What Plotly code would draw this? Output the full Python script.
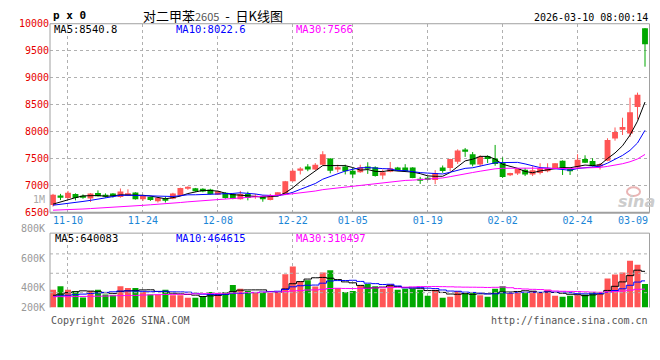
import plotly.graph_objects as go
import pandas as pd

W, H = 660, 360
MONO = "DejaVu Sans Mono"

# ---------------- data ----------------
open_ = [6645, 6820, 6775, 6850, 6810, 6765, 6865, 6825, 6855, 6790,
         6830, 6875, 6750, 6790, 6712, 6760, 6762, 6821, 6955, 6952,
         6945, 6930, 6835, 6870, 6850, 6750, 6850, 6800, 6810, 6735,
         6810, 6845, 7085, 7290, 7357, 7300, 7387, 7506, 7300, 7357,
         7280, 7250, 7357, 7345, 7190, 7260, 7340, 7340, 7340, 7130,
         7150, 7105, 7339, 7327, 7446, 7673, 7583, 7393, 7553, 7506,
         7428, 7196, 7226, 7298, 7208, 7238, 7268, 7327, 7464, 7310,
         7339, 7494, 7458, 7357, 7464, 7875, 8055, 7970, 8460, 9915]
high = [6850, 6850, 6905, 6860, 6840, 6865, 6915, 6860, 6865, 6950,
        6935, 6880, 6830, 6800, 6790, 6800, 6870, 6965, 6990, 6960,
        6955, 6945, 6910, 6880, 6860, 6905, 6890, 6850, 6820, 6850,
        6880, 7090, 7300, 7345, 7400, 7420, 7640, 7510, 7390, 7390,
        7330, 7390, 7435, 7360, 7300, 7440, 7350, 7400, 7345, 7165,
        7170, 7290, 7375, 7500, 7675, 7700, 7625, 7565, 7565, 7756,
        7525, 7240, 7315, 7330, 7360, 7417, 7417, 7420, 7470, 7330,
        7585, 7565, 7510, 7420, 7880, 8080, 8260, 8630, 8725, 9920]
low = [6615, 6735, 6760, 6730, 6760, 6700, 6800, 6780, 6780, 6780,
       6810, 6745, 6720, 6720, 6690, 6690, 6750, 6815, 6925, 6890,
       6880, 6840, 6830, 6760, 6750, 6745, 6730, 6760, 6705, 6730,
       6805, 6840, 7080, 7210, 7270, 7290, 7380, 7230, 7250, 7210,
       7140, 7240, 7220, 7170, 7120, 7250, 7270, 7260, 7140, 7035,
       7100, 7030, 7240, 7270, 7405, 7535, 7360, 7360, 7420, 7370,
       7145, 7180, 7200, 7180, 7180, 7210, 7250, 7320, 7200, 7200,
       7330, 7420, 7360, 7300, 7455, 7835, 7940, 7905, 8230, 9205]
close = [6835, 6790, 6870, 6775, 6795, 6855, 6805, 6800, 6805, 6895,
         6860, 6750, 6810, 6735, 6775, 6725, 6857, 6958, 6965, 6900,
         6895, 6845, 6900, 6775, 6760, 6850, 6775, 6815, 6750, 6820,
         6880, 7083, 7280, 7320, 7300, 7387, 7583, 7280, 7345, 7270,
         7210, 7345, 7330, 7180, 7250, 7325, 7280, 7270, 7143, 7105,
         7120, 7238, 7274, 7494, 7655, 7643, 7393, 7536, 7494, 7405,
         7161, 7238, 7315, 7208, 7286, 7327, 7327, 7417, 7327, 7268,
         7480, 7425, 7370, 7400, 7848, 7995, 8090, 8360, 8685, 9620]
volume = [311000, 374000, 311000, 289000, 175000, 289000, 311000, 226000, 216000, 374000,
          340000, 340000, 272000, 226000, 226000, 311000, 216000, 216000, 170000, 170000,
          192000, 272000, 255000, 272000, 396000, 328000, 289000, 260000, 272000, 255000,
          255000, 583000, 719000, 459000, 476000, 369000, 612000, 651000, 340000, 272000,
          289000, 386000, 413000, 374000, 328000, 408000, 311000, 328000, 328000, 311000,
          204000, 311000, 170000, 187000, 289000, 255000, 255000, 216000, 187000, 328000,
          374000, 255000, 255000, 255000, 289000, 255000, 311000, 204000, 187000, 204000,
          216000, 226000, 272000, 272000, 510000, 578000, 612000, 821000, 748000, 413000]

# moving-average values before enough history is visible
ma5_head = [6660, 6700, 6750, 6780]
ma10_head = [6640, 6655, 6680, 6695, 6710, 6730, 6750, 6770, 6790]
ma30_head = [6548, 6550, 6558, 6565, 6570, 6578, 6585, 6590, 6597, 6605,
             6615, 6625, 6638, 6648, 6655, 6665, 6675, 6690, 6703, 6714,
             6725, 6735, 6745, 6760, 6770, 6780, 6795, 6805, 6815]
vma5_head = [215000, 235000, 260000, 275000]
vma10_head = [195000, 205000, 215000, 225000, 235000, 245000, 255000, 265000, 275000]
vma30_head = [190000, 190000, 190000, 192000, 194000, 196000, 198000, 200000, 205000, 208000,
              210000, 212000, 218000, 222000, 225000, 228000, 230000, 232000, 235000, 240000,
              242000, 245000, 248000, 250000, 255000, 258000, 262000, 265000, 268000]

tick_idx = [2, 12, 22, 32, 40, 50, 60, 70, 79]
tick_labels = ["11-10", "11-24", "12-08", "12-22", "01-05", "01-19", "02-02", "02-24", "03-09"]
price_ticks = [6500, 7000, 7500, 8000, 8500, 9000, 9500, 10000]
price_tick_labels = ["6500", "7000", "7500", "8000", "8500", "9000", "9500", "10000"]
vol_tick_labels = ["800K", "600K", "400K", "200K"]
price_ma_labels = ["MA5:8540.8", "MA10:8022.6", "MA30:7566"]
vol_ma_labels = ["MA5:640083", "MA10:464615", "MA30:310497"]
title_name = "对二甲苯"
title_code = "2605"
title_tail = "\u00a0\u00a0-\u00a0\u00a0日K线图"
symbol = "p x 0"
stamp = "2026-03-10 08:00:14"

# ---------------- derived series ----------------
def moving(series, n, head):
    m = pd.Series(series, dtype=float).rolling(n).mean()
    m.iloc[:len(head)] = head
    return m.tolist()

ma5 = moving(close, 5, ma5_head)
ma10 = moving(close, 10, ma10_head)
ma30 = moving(close, 30, ma30_head)
vma5 = moving(volume, 5, vma5_head)
vma10 = moving(volume, 10, vma10_head)
vma30 = moving(volume, 30, vma30_head)

n = len(close)
x = list(range(n))
UP, DN = "#ff5555", "#00a800"
up = [c >= o for o, c in zip(open_, close)]
col = [UP if u else DN for u in up]

# ---------------- geometry ----------------
def fx(px): return px / W
def fy(py): return 1 - py / H

L, R = 50, 649.5
P_TOP, P_BOT = 18.3, 213.3
V_TOP, V_BOT = 234.3, 311.0
VOL_UNIT = 17000  # volume per pixel

fig = go.Figure()

# candle wicks
for flag, c in ((True, UP), (False, DN)):
    wx, wy = [], []
    for i in range(n):
        if up[i] == flag:
            wx += [i, i, None]
            wy += [low[i], high[i], None]
    fig.add_trace(go.Scatter(x=wx, y=wy, mode="lines", line=dict(color=c, width=1),
                             hoverinfo="skip", xaxis="x", yaxis="y"))
# candle bodies
fig.add_trace(go.Bar(x=x, y=[max(abs(c - o), 12) for o, c in zip(open_, close)],
                     base=[min(o, c) for o, c in zip(open_, close)],
                     width=0.78, marker=dict(color=col, line=dict(width=0)),
                     xaxis="x", yaxis="y"))
# price MAs
for m, c in ((ma5, "#000000"), (ma10, "#0000ff"), (ma30, "#ff00ff")):
    fig.add_trace(go.Scatter(x=x, y=m, mode="lines", line=dict(color=c, width=1),
                             xaxis="x", yaxis="y"))
# volume bars
fig.add_trace(go.Bar(x=x, y=volume, width=0.8, marker=dict(color=col, line=dict(width=0)),
                     xaxis="x2", yaxis="y2"))
for m, c in ((vma5, "#000000"), (vma10, "#0000ff"), (vma30, "#ff00ff")):
    fig.add_trace(go.Scatter(x=x, y=m, mode="lines", line=dict(color=c, width=1, shape="hvh"),
                             xaxis="x2", yaxis="y2"))

grid = dict(showgrid=True, gridcolor="#b0b0b0", griddash="dot", gridwidth=1)
xr = [-0.4, n - 0.4]
fig.update_layout(
    width=W, height=H, margin=dict(l=0, r=0, t=0, b=0),
    paper_bgcolor="white", plot_bgcolor="white", showlegend=False, barmode="overlay",
    xaxis=dict(domain=[fx(L), fx(R)], range=xr, anchor="y", tickmode="array",
               tickvals=tick_idx[:-1], ticktext=tick_labels[:-1], ticks="",
               tickfont=dict(family=MONO, size=10, color="#1c86d6"),
               zeroline=False, showline=False, **grid),
    yaxis=dict(domain=[fy(P_BOT), fy(P_TOP)], range=[price_ticks[0], price_ticks[-1]],
               anchor="x", tickmode="array", tickvals=price_ticks, ticktext=price_tick_labels,
               ticks="", tickfont=dict(family=MONO, size=10, color="#e60000"),
               zeroline=False, showline=False, **grid),
    xaxis2=dict(domain=[fx(L), fx(R)], range=xr, anchor="y2", matches="x", tickmode="array",
                tickvals=tick_idx[:-1], showticklabels=False, ticks="",
                zeroline=False, showline=False, **grid),
    yaxis2=dict(domain=[fy(V_BOT), fy(V_TOP)], range=[0, (V_BOT - V_TOP) * VOL_UNIT],
                anchor="x2", showgrid=False, showticklabels=False, ticks="", zeroline=False),
)

FRAME = "#a0a0a0"
shapes = []
def hline(y, x0=L, x1=R, color=FRAME, width=1, dash="solid"):
    shapes.append(dict(type="line", xref="paper", yref="paper", x0=fx(x0), x1=fx(x1),
                       y0=fy(y), y1=fy(y), line=dict(color=color, width=width, dash=dash)))
def vline(xp, y0, y1, color=FRAME, width=1):
    shapes.append(dict(type="line", xref="paper", yref="paper", x0=fx(xp), x1=fx(xp),
                       y0=fy(y0), y1=fy(y1), line=dict(color=color, width=width)))
hline(P_TOP)
hline(P_BOT, width=2)
vline(L, P_TOP, P_BOT)
vline(R, P_TOP, P_BOT)
hline(V_TOP)
vline(L, V_TOP, V_BOT)
vline(R, V_TOP, V_BOT)
for gy in (255.7, 275.7, 295.7):
    hline(gy, color="#b0b0b0", dash="dot")
# sina logo eye
shapes.append(dict(type="circle", xref="paper", yref="paper", x0=fx(627), x1=fx(640),
                   y0=fy(196), y1=fy(187), line=dict(color="#eab4b4", width=2)))
fig.update_layout(shapes=shapes)

anns = []
def ann(text, xp, yp, anchor="left", color="#000", size=10, family=MONO, **kw):
    anns.append(dict(text=text, x=fx(xp), y=fy(yp), xref="paper", yref="paper",
                     xanchor=anchor, yanchor="middle", showarrow=False,
                     font=dict(family=family, size=size, color=color), **kw))

ann("<b>" + symbol + "</b>", 51, 10, size=11)
ann(title_name + "<span style='font-size:11px;color:#555'>" + title_code + "</span>" + title_tail,
    213, 10, anchor="center", size=13, family="Noto Sans CJK SC")
ann(stamp, 650, 12, anchor="right", size=10)
for t, xp, c in zip(price_ma_labels, (52, 174, 294), ("#000000", "#0000ff", "#ff00ff")):
    ann(t, xp, 24, color=c, size=10.5)
for t, xp, c in zip(vol_ma_labels, (53, 174, 294), ("#000000", "#0000ff", "#ff00ff")):
    ann(t, xp, 239.5, color=c, size=10.5)
for t, yp in zip(vol_tick_labels, (230, 260, 290.7, 311)):
    ann(t, 47, yp, anchor="right", color="#999999", size=10)
ann("1M", 47, 200, anchor="right", color="#aaaaaa", size=10)
ann(tick_labels[-1], 650, 221, anchor="right", color="#1c86d6", size=10)
ann("Copyright 2026 SINA.COM", 49, 324, color="#555555", size=10)
ann("http://finance.sina.com.cn", 650, 324, anchor="right", color="#555555", size=10)
ann("<b><i>sina</i></b>", 636, 202, anchor="center", color="#cccccc", size=16,
    family="DejaVu Sans")
fig.update_layout(annotations=anns)

fig.write_html("out.html", config={"displayModeBar": False},
               post_script="document.body.style.margin='0px';"
                           "document.body.style.overflow='hidden';")
